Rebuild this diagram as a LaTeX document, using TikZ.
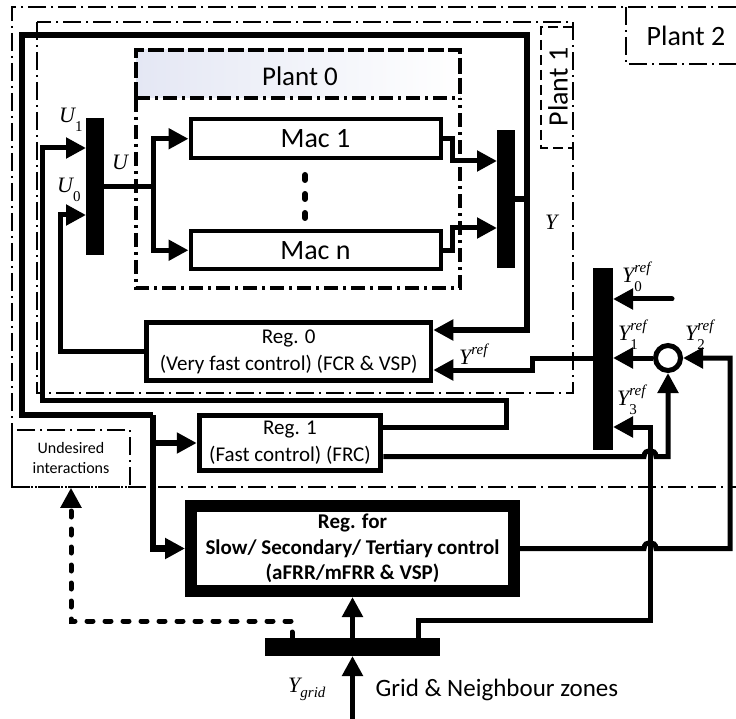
\documentclass[tikz,border=0pt]{standalone}
\usepackage{fontspec}
\setmainfont{Carlito}
\newfontfamily\tms{Liberation Serif}
\usetikzlibrary{arrows.meta,calc}
\definecolor{hdr}{RGB}{228,231,244}
\newcommand\fsz[2]{\fontsize{#1}{#2}\selectfont}
\newcommand\mvar[3]{{\itshape #1}\makebox[0pt][l]{\raisebox{-9pt}{\fsz{15}{15}\upshape #2}}\raisebox{10pt}{\fsz{15}{15}\itshape #3}}
\begin{document}
\begin{tikzpicture}[x=1pt,y=-1pt,
 box/.style={draw,line width=4.5pt,inner sep=0pt,align=center},
 bar/.style={fill=black,draw=none,inner sep=0pt,outer sep=0pt},
 ln/.style={line width=5pt},
 fb/.style={line width=6.5pt},
 arr/.style={-{Triangle[length=20pt,width=20pt]}},
 dd/.style={line width=1.5pt,dash pattern=on 18pt off 5pt on 2pt off 5pt},
 dsh/.style={line width=1.5pt,dash pattern=on 10pt off 5pt},
 pzdd/.style={line width=4pt,dash pattern=on 14pt off 5pt on 3pt off 5pt},
 pzdash/.style={line width=4pt,dash pattern=on 16pt off 4pt},
 lbl/.style={inner sep=0pt,anchor=base west,font=\tms\fsz{22}{22}},
 dots/.style={line width=5pt,line cap=round,dash pattern=on 6pt off 12pt}
]
\useasboundingbox (0,0) rectangle (736,719);

% Plant 2 frame
\draw[dd] (736,7) -- (12,7) -- (12,487) -- (736,487);
\draw[dd] (626,7) -- (626,64) -- (736,64);
\node[font=\fsz{28}{28}] (p2) at (686,36) {Plant 2};

% Plant 1 frame
\draw[dd] (37,22) rectangle (573,393);
\draw[dsh] (573,27) -- (541,27) -- (541,148) -- (573,148);
\node[font=\fsz{28}{28},rotate=90] (p1) at (558,87) {Plant 1};

% Plant 0 frame
\shade[left color=hdr,right color=white] (136,50) rectangle (460,98);
\draw[pzdash] (136,98) -- (136,50) -- (460,50) -- (460,98);
\draw[pzdd] (136,98) -- (460,98);
\draw[pzdd] (136,98) -- (136,288) -- (460,288) -- (460,98);
\node[font=\fsz{27}{27}] (p0) at (300,76) {Plant 0};

% Machines
\node[box,line width=4pt,minimum width=250pt,minimum height=38.5pt,font=\fsz{28}{28}] (mac1) at (315.5,138.75) {Mac 1};
\node[box,line width=4pt,minimum width=250pt,minimum height=38.5pt,font=\fsz{28}{28}] (macn) at (315.5,250.25) {Mac n};
\draw[line width=6pt,line cap=round,dash pattern=on 5pt off 14pt] (305,175) -- (305,218);

% Buses
\node[bar,minimum width=18pt,minimum height=137pt] (ubus) at (95,186.5) {};
\node[bar,minimum width=18pt,minimum height=138pt] (ybus) at (506,199) {};
\node[bar,minimum width=20pt,minimum height=182pt] (yrbus) at (603,359) {};
\node[bar,minimum width=175pt,minimum height=18pt] (gbus) at (352.5,647) {};

% Regulators
\node[box,minimum width=284.5pt,minimum height=58pt,font=\fsz{21}{27}] (reg0) at (288.75,351.5) {Reg. 0\\(Very fast control) (FCR \& VSP)};
\node[box,line width=5pt,minimum width=181.5pt,minimum height=54.5pt,font=\fsz{21}{27}] (reg1) at (290,443) {Reg. 1\\(Fast control) (FRC)};
\node[box,line width=12pt,minimum width=323pt,minimum height=85pt,font=\bfseries\fsz{21}{25.5}] (bigreg) at (352.5,548.5) {Reg. for\\Slow/ Secondary/ Tertiary control\\(aFRR/mFRR \& VSP)};
\node[draw,circle,line width=5pt,minimum size=25pt,inner sep=0pt] (sum) at (668,358) {};

% Undesired interactions
\node[dd,draw,minimum width=118pt,minimum height=57pt,inner sep=0pt,align=center,font=\fsz{16}{20}] (und) at (71,458.5) {Undesired\\interactions};

% Coordinates
\coordinate (jy) at (527,199);
\coordinate (jl) at (153,415);
\coordinate (ju) at (153,186);
\coordinate (u1) at (42,148);
\coordinate (r1a) at (506,400);
\coordinate (u0) at (60,215);
\coordinate (m1) at (452,161);
\coordinate (mn) at (452,228);
\coordinate (yr) at (532,358);
\coordinate (y0) at (672,299);
\coordinate (y2) at (730,358);
\coordinate (hopa) at (650,548.5);
\coordinate (hopb) at (650,456.5);
\coordinate (g3a) at (418,620);
\coordinate (y3) at (650,427);
\coordinate (gin) at (352.5,719);
\coordinate (d1) at (292,621);

% Y feedback
\draw[fb] (ybus.east) -- (jy);
\draw[fb] (jy) |- (22,35) |- (jl);
\draw[fb,arr] (jl) |- (bigreg.west);
\draw[fb,arr] (jy) |- ([yshift=21.5pt]reg0.east);
\draw[fb,arr] (jl |- reg1.west) -- (reg1.west);

% Reg 1 -> U1, Reg 0 -> U0
\draw[ln,arr] ([yshift=16pt]reg1.east) -| (r1a) -| (u1) -- (ubus.west |- u1);
\draw[ln,arr] (reg0.west) -| (u0) -- (ubus.west |- u0);

% U -> machines
\draw[ln] (ubus.east) -- (ju |- ubus.east);
\draw[ln,arr] (ju) |- (mac1.west);
\draw[ln,arr] (ju) |- (macn.west);

% machines -> Y
\draw[ln,arr] (mac1.east) -| (m1) -- (ybus.west |- m1);
\draw[ln,arr] (macn.east) -| (mn) -- (ybus.west |- mn);

% Yref -> Reg 0
\draw[ln,arr] (yrbus.west |- yr) -- (yr) |- ([yshift=-18.5pt]reg0.east);
\draw[ln,arr] (sum.west) -- (yrbus.east |- sum.west);
\draw[ln,arr,line cap=round] (y0) -- (yrbus.east |- y0);

% big reg -> Y2ref
\draw[ln,arr] (bigreg.east) -- ([xshift=-6pt]hopa) .. controls ([xshift=-6pt,yshift=8pt]hopa) and ([xshift=6pt,yshift=8pt]hopa) .. ([xshift=6pt]hopa) -| (y2) -- (sum.east);
% Reg 1 -> sum
\draw[ln,arr] ([yshift=-13.5pt]reg1.east) -- ([xshift=-6pt]hopb) .. controls ([xshift=-6pt,yshift=8pt]hopb) and ([xshift=6pt,yshift=8pt]hopb) .. ([xshift=6pt]hopb) -| (sum.south);
% grid bus -> Y3ref
\draw[ln,arr] (gbus.north -| g3a) -- (g3a) -| (y3) -- (yrbus.east |- y3);

% grid
\draw[ln,arr] (gin) -- (gbus.south);
\draw[ln,arr] (gbus.north) -- (bigreg.south);
\draw[dots,arr] (gbus.north -| d1) -- (d1) -| (und.south);

% Labels
\node[lbl] (lu1) at (59,123) {\mvar{U}{1}{}};
\node[lbl] (lu) at (112,170) {\mvar{U}{}{}};
\node[lbl] (lu0) at (57,193) {\mvar{U}{0}{}};
\node[lbl] (ly) at (545,230) {\mvar{Y}{}{}};
\node[lbl] (lyr) at (459,364) {\mvar{Y}{}{ref}};
\node[lbl] (ly0) at (622,283) {\mvar{Y}{0}{ref}};
\node[lbl] (ly1) at (618,340) {\mvar{Y}{1}{ref}};
\node[lbl] (ly2) at (685,340) {\mvar{Y}{2}{ref}};
\node[lbl] (ly3) at (617,405) {\mvar{Y}{3}{ref}};
\node[lbl] (lyg) at (288,692) {{\itshape Y}\raisebox{-5pt}{\fsz{15}{15}\itshape grid}};
\node[anchor=west,font=\fsz{25}{25}] (grid) at (372,690) {Grid \& Neighbour zones};
\end{tikzpicture}
\end{document}
